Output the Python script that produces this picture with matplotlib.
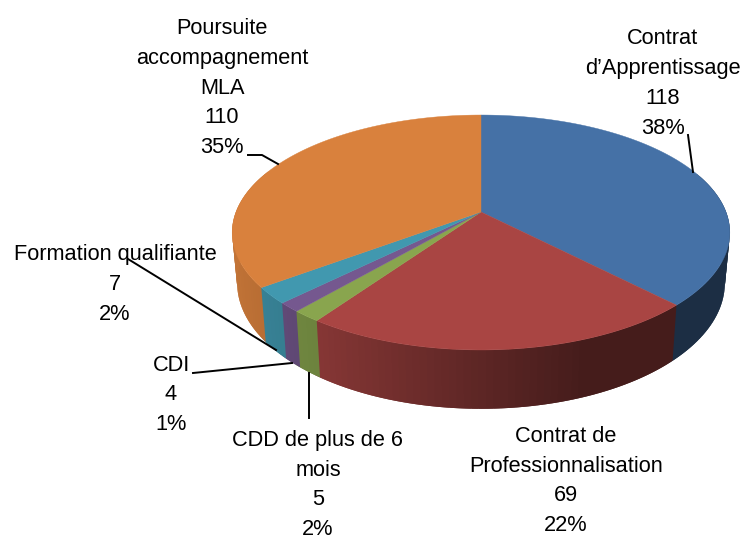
import numpy as np
import matplotlib
matplotlib.use('Agg')
import matplotlib.pyplot as plt

# Data
names = ["Contrat\nd’Apprentissage", "Contrat de\nProfessionnalisation", "CDD de plus de 6\nmois",
         "CDI", "Formation qualifiante", "Poursuite\naccompagnement\nMLA"]
values = [118, 69, 5, 4, 7, 110]
percents = ["38%", "22%", "2%", "1%", "2%", "35%"]
colors = ['#4571A6', '#A94543', '#89A54E', '#75588F', '#4198AF', '#D9813D']

# Label anchors in pixels (centre x, centre y of the block)
label_pos = [(663, 83.5), (566, 481), (318, 485), (171, 395), (115, 284.5), (222, 88)]
leaders = [[(688, 135), (693, 172)],
           [],
           [(309, 373), (309, 418)],
           [(193, 373), (292, 363)],
           [(128, 259), (276, 350)],
           [(248, 155), (262, 155), (278, 164)]]

plt.rcParams['font.family'] = ['Liberation Sans', 'DejaVu Sans']

fig = plt.figure(figsize=(7.55, 5.4), dpi=100, facecolor='white')
ax = fig.add_axes([0, 0, 1, 1])
ax.set_xlim(0, 755)
ax.set_ylim(540, 0)
ax.axis('off')

# Perspective of the pie: top face and bottom face
k = 0.1745
cx = 481

def top_pt(t):
    X, Y = np.sin(t), np.cos(t)
    return cx + 245 * X / (1 + k * Y), 212 - 113.9 * Y / (1 + k * Y)

def bot_pt(t):
    X, Y = np.sin(t), np.cos(t)
    return cx + 0.98 * 245 * X / (1 + k * Y), 261 - 122 * Y / (1 + k * Y)

def shade(c, f):
    rgb = np.array(matplotlib.colors.to_rgb(c))
    return tuple(rgb * f)

vals = np.array(values, dtype=float)
edges = np.concatenate([[0], np.cumsum(vals)]) / vals.sum() * 2 * np.pi

# Side wall, small strips so the shading can change along the rim
# each strip runs on under the next one, that way no seams show
for i in range(len(vals)):
    a0, a1 = edges[i], edges[i + 1]
    n = max(2, int((a1 - a0) / 0.025))
    ts = np.linspace(a0, a1, n + 1)
    step = ts[1] - ts[0]
    for t0, t1 in zip(ts[:-1], ts[1:]):
        tm = (t0 + t1) / 2
        if np.cos(tm) > 0.35:
            continue
        f = np.interp(np.sin(tm), [-1, -0.57, 0, 0.35, 1], [0.90, 0.79, 0.55, 0.41, 0.41])
        tt = np.linspace(t0, t1 + step, 4)
        xa, ya = top_pt(tt)
        xb, yb = bot_pt(tt[::-1])
        ax.fill(np.r_[xa, xb], np.r_[ya, yb], color=shade(colors[i], f), lw=0, zorder=2)

# Top face
for i in range(len(vals)):
    ts = np.linspace(edges[i], edges[i + 1], 200)
    xs, ys = top_pt(ts)
    ax.fill(np.r_[cx, xs], np.r_[212, ys], color=colors[i], lw=0.3, zorder=3)

# Labels
for name, v, p, (x, y) in zip(names, values, percents, label_pos):
    ax.text(x, y, f"{name}\n{v}\n{p}", ha='center', va='center', ma='center',
            fontsize=15.7, color='#000000', linespacing=1.55, zorder=4)

for pts in leaders:
    if pts:
        ax.plot([q[0] for q in pts], [q[1] for q in pts], color='black', lw=1.4, zorder=5)

fig.savefig('out.png', dpi=100)
